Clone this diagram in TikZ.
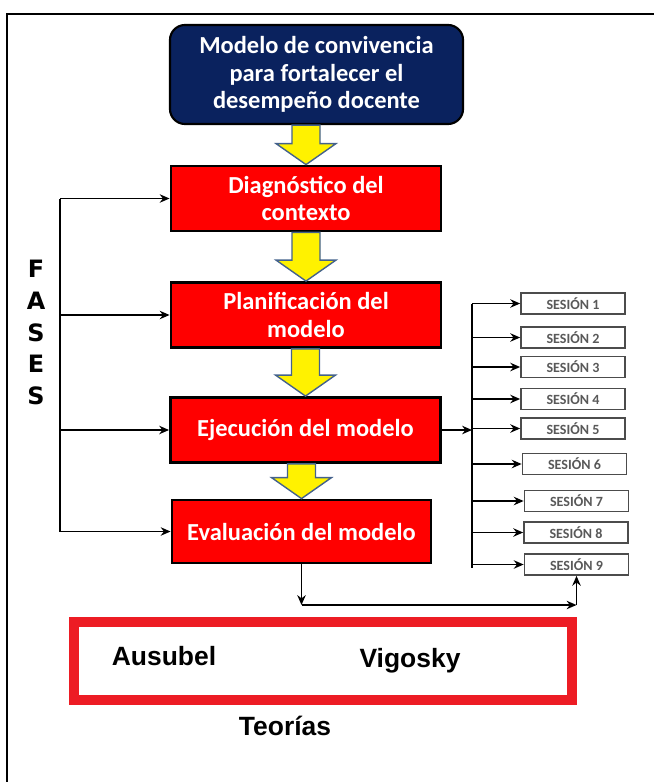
\documentclass[tikz,border=0pt]{standalone}
\usepackage{fontspec}
\setmainfont{Carlito}
\newfontfamily\teofont{Liberation Sans}
\newfontfamily\fasefont{DejaVu Sans}
\usetikzlibrary{calc,arrows.meta}

\definecolor{navyfill}{RGB}{10,34,94}
\definecolor{boxred}{RGB}{255,0,0}
\definecolor{framered}{RGB}{237,28,36}
\definecolor{arrowedge}{RGB}{68,98,140}

% yellow block arrow from the bottom of #1 to the top of #2
\newcommand{\yarrow}[2]{%
  \filldraw[yarrowfill] ($(#1.south -| #2.north)+(-14,0)$) -- ($(#2.north)+(-14,-21)$)
    -- ($(#2.north)+(-30,-21)$) -- (#2.north) -- ($(#2.north)+(30,-21)$)
    -- ($(#2.north)+(14,-21)$) -- ($(#1.south -| #2.north)+(14,0)$) -- cycle;}

\begin{document}
\begin{tikzpicture}[x=0.025cm, y=-0.025cm, >={Stealth[length=7pt,width=6pt]},
    conn/.style={line width=1.4pt},
    modelo/.style={draw=black, line width=1.5pt, fill=navyfill, text=white, rounded corners=0.375cm,
      font=\fontsize{17.4}{19.5}\selectfont\bfseries, align=center, inner sep=0pt,
      minimum width=7.325cm, minimum height=2.475cm},
    fase/.style={draw=black, line width=2pt, fill=boxred, text=white,
      font=\fontsize{17.4}{19.5}\selectfont\bfseries, align=center, inner sep=0pt,
      minimum width=6.75cm, minimum height=1.625cm},
    sesion/.style={draw=black!70, line width=1.2pt, fill=white, text=black!65,
      font=\fontsize{10}{12}\selectfont\bfseries, inner sep=0pt,
      minimum width=2.6cm, minimum height=0.525cm},
    yarrowfill/.style={fill=yellow, draw=arrowedge, line width=1pt},
    teoria/.style={draw=framered, line width=7pt, minimum width=12.45cm, minimum height=1.95cm},
    autor/.style={font=\teofont\fontsize{18.8}{22}\selectfont\bfseries}]
    \useasboundingbox (0,0) rectangle (654,782);

    % Frame
    \draw[line width=1.4pt] (7,782) -- (7,14) -- (654,14);

    % Nodes
    \node[modelo] (modelo) at (316.5,74.5) {Modelo de convivencia\\para fortalecer el\\desempeño docente};
    \node[fase] (diag) at (306,198.5) {Diagnóstico del\\contexto};
    \node[fase] (plan) at (306,315) {Planificación del\\modelo};
    \node[fase] (ejec) at (305.5,430) {Ejecución del modelo};
    \node[fase, minimum width=6.475cm, minimum height=1.575cm] (eval) at (301.5,531.5) {Evaluación del modelo};

    \node[font=\fasefont\fontsize{17}{22.7}\selectfont\bfseries, align=center] (fases) at (36,332.5) {F\\A\\S\\E\\S};

    \foreach \i/\x/\y in {1/573/303.5, 2/573/337.5, 3/573/367, 4/573/399, 5/573/428.5,
                          6/574.5/464, 7/576.5/501, 8/576/532.5, 9/576.5/564.5}
        \node[sesion] (s\i) at (\x,\y) {SESIÓN \i};

    \node[teoria] (teo) at (323,661) {};
    \node[autor] (ausubel) at (164,656) {Ausubel};
    \node[autor] (vigosky) at (410,661) {Vigosky};
    \node[autor] (teorias) at (285,726) {Teorías};

    % Block arrows
    \yarrow{modelo}{diag}
    \yarrow{diag}{plan}
    \yarrow{plan}{ejec}
    \yarrow{ejec}{eval}

    % Arrows
    \coordinate (ftop) at (60,0 |- diag.west);
    \coordinate (fbot) at (60,0 |- eval.west);
    \draw[conn] (ftop) -- (fbot);
    \foreach \n in {diag,plan,ejec,eval}
        \draw[conn,->] (ftop |- \n.west) -- (\n.west);

    \coordinate (stop) at (472,303.5);
    \coordinate (sbot) at (472,568);
    \draw[conn,->] (ejec.east) -- (stop |- ejec.east);
    \draw[conn] (stop) -- (sbot);
    \foreach \i in {1,...,9}
        \draw[conn,->] (stop |- s\i.west) -- (s\i.west);

    \coordinate (bl) at (eval.south |- 0,605);
    \coordinate (br) at (s9.south |- 0,605);
    \draw[conn,->] (eval.south) -- (bl);
    \draw[conn,->] (bl) -- (br);
    \draw[conn,->] (br) -- (s9.south);
\end{tikzpicture}
\end{document}
